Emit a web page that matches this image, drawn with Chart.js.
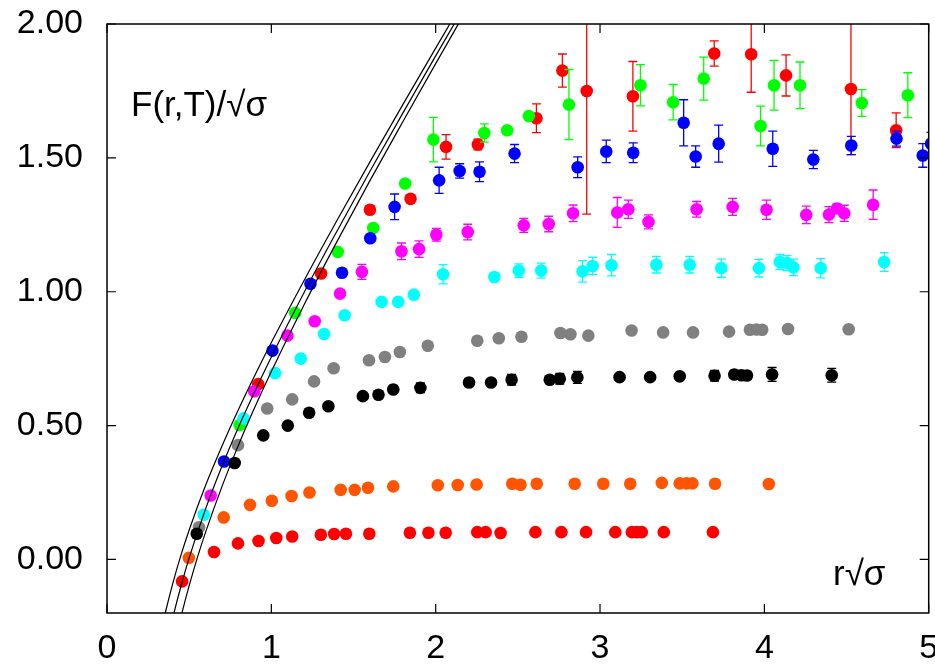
<!DOCTYPE html>
<html>
<head>
<meta charset="UTF-8">
<title>F(r,T)</title>
<script src="https://cdn.jsdelivr.net/npm/chart.js"></script>
<style>
  body { margin: 0; background: #fff; }
  #box { width: 935px; height: 666px; }
</style>
</head>
<body>
<div id="box"><canvas id="grafico" width="935" height="666"></canvas></div>

<script>
// ticks
var xTicks = [0, 1, 2, 3, 4, 5];
var yTicks = [0, 0.5, 1.0, 1.5, 2.0];

// series (x = r*sqrt(sigma), y = F/sqrt(sigma)), err = half bar height
var redTopX = [0.920, 1.303, 1.600, 1.847, 2.063, 2.257, 2.613, 2.771, 2.919, 3.200, 3.695, 3.920, 4.132, 4.527, 4.802];
var redTopY = [0.655, 1.068, 1.306, 1.347, 1.541, 1.550, 1.648, 1.826, 1.750, 1.730, 1.890, 1.887, 1.808, 1.757, 1.603];
var redTopErr = [0, 0, 0, 0, 0.046, 0.02, 0.054, 0.062, 0.46, 0.13, 0.047, 0.142, 0.077, 0.245, 0.065];

var greenX = [0.807, 1.145, 1.404, 1.620, 1.814, 1.986, 2.296, 2.435, 2.567, 2.811, 3.246, 3.445, 3.631, 3.977, 4.059, 4.217, 4.593, 4.873];
var greenY = [0.502, 0.921, 1.149, 1.238, 1.404, 1.568, 1.593, 1.603, 1.656, 1.699, 1.771, 1.708, 1.796, 1.619, 1.771, 1.771, 1.705, 1.734];
var greenErr = [0, 0, 0, 0, 0, 0.083, 0.034, 0, 0, 0.131, 0.077, 0.066, 0.080, 0.074, 0.093, 0.087, 0.05, 0.084];

var blueX = [0.712, 1.007, 1.238, 1.430, 1.602, 1.750, 2.021, 2.146, 2.267, 2.480, 2.864, 3.038, 3.202, 3.509, 3.582, 3.722, 4.051, 4.298, 4.529, 4.804, 4.964, 5.014];
var blueY = [0.366, 0.780, 1.030, 1.071, 1.200, 1.317, 1.416, 1.451, 1.448, 1.516, 1.465, 1.524, 1.519, 1.631, 1.505, 1.553, 1.534, 1.494, 1.546, 1.572, 1.509, 1.553];
var blueErr = [0, 0, 0, 0, 0, 0.048, 0.049, 0.027, 0.037, 0.034, 0.039, 0.042, 0.037, 0.086, 0.04, 0.069, 0.066, 0.034, 0.034, 0.028, 0.044, 0.042];

var magentaX = [0.631, 0.896, 1.098, 1.264, 1.418, 1.551, 1.792, 1.899, 2.004, 2.195, 2.536, 2.688, 2.836, 3.105, 3.172, 3.295, 3.588, 3.807, 4.013, 4.255, 4.393, 4.442, 4.486, 4.662];
var magentaY = [0.239, 0.628, 0.836, 0.890, 0.993, 1.074, 1.151, 1.159, 1.213, 1.223, 1.248, 1.253, 1.293, 1.296, 1.308, 1.261, 1.308, 1.317, 1.306, 1.287, 1.288, 1.311, 1.293, 1.325];
var magentaErr = [0, 0, 0, 0, 0, 0.028, 0.031, 0.031, 0.024, 0.029, 0.026, 0.029, 0.031, 0.056, 0.034, 0.026, 0.029, 0.032, 0.036, 0.033, 0.03, 0.017, 0.03, 0.055];

var cyanX = [0.589, 0.831, 1.023, 1.179, 1.321, 1.446, 1.671, 1.772, 1.867, 2.045, 2.357, 2.506, 2.642, 2.894, 2.955, 3.070, 3.343, 3.546, 3.738, 3.967, 4.094, 4.138, 4.177, 4.343, 4.729];
var cyanY = [0.167, 0.527, 0.696, 0.750, 0.842, 0.912, 0.962, 0.962, 0.989, 1.065, 1.055, 1.079, 1.079, 1.076, 1.096, 1.099, 1.101, 1.101, 1.088, 1.088, 1.111, 1.107, 1.091, 1.088, 1.111];
var cyanErr = [0, 0, 0, 0, 0, 0, 0, 0, 0, 0.036, 0, 0.025, 0.028, 0.04, 0.032, 0.04, 0.031, 0.031, 0.034, 0.033, 0.028, 0.028, 0.031, 0.036, 0.035];

var grayX = [0.560, 0.797, 0.975, 1.127, 1.260, 1.379, 1.594, 1.691, 1.782, 1.952, 2.253, 2.384, 2.522, 2.759, 2.820, 2.929, 3.192, 3.384, 3.566, 3.785, 3.912, 3.952, 3.987, 4.144, 4.513];
var grayY = [0.120, 0.427, 0.564, 0.598, 0.665, 0.714, 0.744, 0.756, 0.775, 0.798, 0.817, 0.826, 0.832, 0.846, 0.841, 0.836, 0.855, 0.848, 0.848, 0.851, 0.858, 0.859, 0.858, 0.861, 0.860];

var blackX = [0.546, 0.777, 0.951, 1.100, 1.230, 1.347, 1.557, 1.652, 1.742, 1.907, 2.203, 2.337, 2.462, 2.694, 2.755, 2.862, 3.119, 3.305, 3.485, 3.697, 3.817, 3.861, 3.894, 4.047, 4.410];
var blackY = [0.096, 0.360, 0.4635, 0.500, 0.548, 0.572, 0.610, 0.615, 0.635, 0.641, 0.661, 0.661, 0.6715, 0.6715, 0.675, 0.680, 0.681, 0.681, 0.684, 0.686, 0.691, 0.688, 0.687, 0.691, 0.688];
var blackErr = [0, 0, 0, 0, 0, 0, 0, 0, 0.015, 0.018, 0.015, 0, 0.02, 0, 0.02, 0.022, 0, 0, 0, 0.02, 0.015, 0.015, 0.015, 0.026, 0.026];

var orangeX = [0.498, 0.710, 0.870, 1.003, 1.123, 1.232, 1.422, 1.507, 1.588, 1.742, 2.013, 2.134, 2.249, 2.466, 2.516, 2.615, 2.846, 3.020, 3.184, 3.376, 3.485, 3.527, 3.562, 3.700, 4.027];
var orangeY = [0.006, 0.157, 0.204, 0.219, 0.237, 0.250, 0.260, 0.260, 0.268, 0.273, 0.277, 0.278, 0.280, 0.283, 0.279, 0.283, 0.283, 0.283, 0.283, 0.286, 0.284, 0.284, 0.284, 0.283, 0.282];

var redBotX = [0.457, 0.651, 0.797, 0.922, 1.030, 1.127, 1.301, 1.382, 1.454, 1.596, 1.843, 1.956, 2.061, 2.253, 2.304, 2.395, 2.607, 2.765, 2.915, 3.093, 3.194, 3.224, 3.254, 3.388, 3.687];
var redBotY = [-0.082, 0.028, 0.060, 0.069, 0.080, 0.086, 0.092, 0.095, 0.096, 0.096, 0.100, 0.100, 0.100, 0.102, 0.102, 0.099, 0.102, 0.102, 0.102, 0.102, 0.102, 0.102, 0.102, 0.102, 0.102];

// the three black curves
var curveAX = [0.33, 0.36, 0.40, 0.45, 0.50, 0.60, 0.70, 0.80, 0.90, 1.00, 1.20, 1.40, 1.60, 1.80, 2.00, 2.20];
var curveAY = [-0.266, -0.186, -0.090, 0.016, 0.110, 0.277, 0.424, 0.560, 0.688, 0.810, 1.043, 1.267, 1.485, 1.699, 1.910, 2.119];
var curveBX = [0.36, 0.40, 0.45, 0.50, 0.60, 0.70, 0.80, 0.90, 1.00, 1.20, 1.40, 1.60, 1.80, 2.00, 2.20];
var curveBY = [-0.328, -0.219, -0.100, 0.006, 0.189, 0.349, 0.494, 0.628, 0.756, 0.998, 1.227, 1.450, 1.667, 1.881, 2.092];
var curveCX = [0.40, 0.45, 0.50, 0.55, 0.60, 0.70, 0.80, 0.90, 1.00, 1.20, 1.40, 1.60, 1.80, 2.00, 2.20];
var curveCY = [-0.348, -0.215, -0.098, 0.007, 0.102, 0.273, 0.427, 0.569, 0.702, 0.952, 1.188, 1.415, 1.635, 1.852, 2.066];

function pontos(xs, ys) {
    var out = [];
    for (var i = 0; i < xs.length; i++) {
        out.push({ x: xs[i], y: ys[i] });
    }
    return out;
}

function serie(xs, ys, cor, err, ordem) {
    return {
        data: pontos(xs, ys),
        err: err,
        backgroundColor: cor,
        borderColor: cor,
        borderWidth: 0,
        pointRadius: 6.3,
        pointHoverRadius: 6.3,
        order: ordem
    };
}

function curva(xs, ys) {
    return {
        type: 'line',
        data: pontos(xs, ys),
        borderColor: '#000000',
        borderWidth: 1.2,
        pointRadius: 0,
        fill: false,
        cubicInterpolationMode: 'monotone',
        order: 0
    };
}

var fonte = '"Liberation Sans", Arial, sans-serif';

// error bars, drawn just before each dataset so the dots sit on top
var barras = {
    id: 'barras',
    beforeDatasetDraw: function (chart, args) {
        var ds = chart.data.datasets[args.index];
        if (!ds.err) return;
        var ctx = chart.ctx, a = chart.chartArea;
        var sx = chart.scales.x, sy = chart.scales.y;
        ctx.save();
        ctx.beginPath();
        ctx.rect(a.left, a.top, a.right - a.left, a.bottom - a.top);
        ctx.clip();
        ctx.strokeStyle = ds.backgroundColor;
        ctx.lineWidth = 1.3;
        for (var i = 0; i < ds.data.length; i++) {
            var e = ds.err[i];
            if (!e) continue;
            var px = sx.getPixelForValue(ds.data[i].x);
            var y0 = sy.getPixelForValue(ds.data[i].y - e);
            var y1 = sy.getPixelForValue(ds.data[i].y + e);
            ctx.beginPath();
            ctx.moveTo(px, y0); ctx.lineTo(px, y1);
            ctx.moveTo(px - 4.5, y0); ctx.lineTo(px + 4.5, y0);
            ctx.moveTo(px - 4.5, y1); ctx.lineTo(px + 4.5, y1);
            ctx.stroke();
        }
        ctx.restore();
    }
};

// frame, inward ticks and the two axis captions
var moldura = {
    id: 'moldura',
    afterDraw: function (chart) {
        var ctx = chart.ctx, a = chart.chartArea;
        var sx = chart.scales.x, sy = chart.scales.y;
        ctx.save();
        ctx.strokeStyle = '#000';
        ctx.lineWidth = 1.5;
        ctx.strokeRect(a.left, a.top, a.right - a.left, a.bottom - a.top);
        ctx.lineWidth = 1.2;
        ctx.beginPath();
        xTicks.forEach(function (v) {
            var p = sx.getPixelForValue(v);
            ctx.moveTo(p, a.bottom); ctx.lineTo(p, a.bottom - 9);
            ctx.moveTo(p, a.top); ctx.lineTo(p, a.top + 9);
        });
        yTicks.forEach(function (v) {
            var p = sy.getPixelForValue(v);
            ctx.moveTo(a.left, p); ctx.lineTo(a.left + 9, p);
            ctx.moveTo(a.right, p); ctx.lineTo(a.right - 9, p);
        });
        ctx.stroke();

        ctx.fillStyle = '#000';
        ctx.font = '35px ' + fonte;
        ctx.textBaseline = 'alphabetic';
        ctx.textAlign = 'left';
        ctx.fillText('F(r,T)/\u221A\u03C3', 131, 116);
        ctx.fillText('r\u221A\u03C3', 833, 585);
        ctx.restore();
    }
};

var ctx = document.getElementById('grafico');

var meuGrafico = new Chart(ctx, {
    type: 'scatter',
    data: {
        datasets: [
            curva(curveAX, curveAY),
            curva(curveBX, curveBY),
            curva(curveCX, curveCY),
            serie(redBotX, redBotY, '#ff0000', null, 2),
            serie(orangeX, orangeY, '#ff5500', null, 3),
            serie(blackX, blackY, '#000000', blackErr, 4),
            serie(grayX, grayY, '#808080', null, 5),
            serie(cyanX, cyanY, '#00ffff', cyanErr, 6),
            serie(magentaX, magentaY, '#ff00ff', magentaErr, 7),
            serie(blueX, blueY, '#0000ff', blueErr, 8),
            serie(greenX, greenY, '#00ff00', greenErr, 9),
            serie(redTopX, redTopY, '#ff0000', redTopErr, 10)
        ]
    },
    options: {
        responsive: false,
        animation: false,
        devicePixelRatio: 1,
        layout: { padding: { top: 24, right: 3, left: 0, bottom: 0 } },
        plugins: {
            legend: { display: false },
            tooltip: { enabled: false }
        },
        scales: {
            x: {
                type: 'linear',
                min: 0,
                max: 5,
                grid: { display: false, drawTicks: false },
                border: { display: false },
                ticks: {
                    color: '#000',
                    font: { family: fonte, size: 34 },
                    padding: 15,
                    maxRotation: 0,
                    callback: function (v) { return String(v); }
                },
                afterBuildTicks: function (scale) {
                    scale.ticks = xTicks.map(function (v) { return { value: v }; });
                },
                afterFit: function (scale) {
                    scale.height = 53;
                    scale.paddingLeft = 0;
                    scale.paddingRight = 0;
                }
            },
            y: {
                type: 'linear',
                min: -0.2,
                max: 2.0,
                grid: { display: false, drawTicks: false },
                border: { display: false },
                ticks: {
                    color: '#000',
                    font: { family: fonte, size: 34 },
                    padding: 24,
                    callback: function (v) { return Number(v).toFixed(2); }
                },
                afterBuildTicks: function (scale) {
                    scale.ticks = yTicks.map(function (v) { return { value: v }; });
                },
                afterFit: function (scale) {
                    scale.width = 107;
                    scale.paddingTop = 0;
                    scale.paddingBottom = 0;
                }
            }
        }
    },
    plugins: [barras, moldura]
});
</script>
</body>
</html>
